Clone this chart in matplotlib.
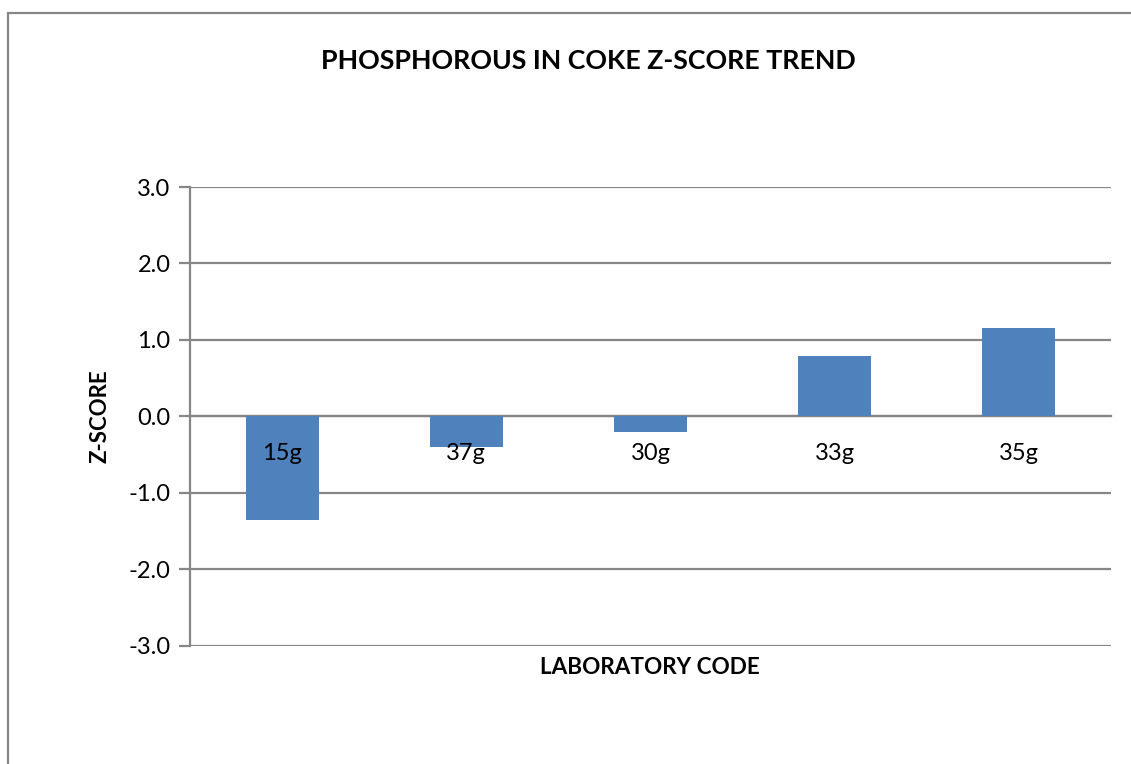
import matplotlib.pyplot as plt
from matplotlib.patches import Rectangle

labs = ["15g", "37g", "30g", "33g", "35g"]
zscores = [-1.35, -0.40, -0.21, 0.79, 1.16]
yticks = [-3.0, -2.0, -1.0, 0.0, 1.0, 2.0, 3.0]

plt.rcParams['font.family'] = ['Lato', 'DejaVu Sans']
grey = "#868686"

fig = plt.figure(figsize=(11.31, 7.64), dpi=100)
W, H = 1131., 764.

# outer chart frame
fig.patches.append(Rectangle((8 / W, -0.05), 1.1, 1 - 13 / H + 0.05,
                             transform=fig.transFigure, fill=False,
                             edgecolor=grey, lw=1.6))

ax = fig.add_axes([190 / W, 1 - 645.7 / H, (1111 - 190) / W, (645.7 - 187) / H])
x = list(range(len(labs)))
ax.bar(x, zscores, width=0.396, color="#4F81BD", zorder=3)
ax.set_xlim(-0.5, len(labs) - 0.5)
ax.set_ylim(-3, 3)
ax.set_yticks(yticks)
ax.set_yticklabels(["%.1f" % v for v in yticks], fontsize=17)
ax.yaxis.grid(True, color=grey, lw=1.6, zorder=0)
ax.set_axisbelow(True)

for s in ["top", "right"]:
    ax.spines[s].set_visible(False)
ax.spines["left"].set_color(grey)
ax.spines["left"].set_linewidth(1.6)
ax.spines["bottom"].set_position(("data", 0))
ax.spines["bottom"].set_color(grey)
ax.spines["bottom"].set_linewidth(1.6)
ax.tick_params(axis="y", length=8, width=1.6, color=grey, pad=6)
ax.set_xticks(x)
ax.set_xticklabels(labs, fontsize=17)
ax.tick_params(axis="x", length=0, pad=19)
# category labels sit on top of the bars
ax.xaxis.set_zorder(5)

fig.text(588 / W, 1 - 61 / H, "PHOSPHOROUS IN COKE Z-SCORE TREND",
         ha="center", va="center", fontsize=19.3, fontweight="bold")
fig.text(100 / W, 1 - 416 / H, "Z-SCORE", rotation=90, ha="center",
         va="center", fontsize=16, fontweight="bold")
fig.text(650 / W, 1 - 668 / H, "LABORATORY CODE", ha="center", va="center",
         fontsize=16.2, fontweight="bold")

fig.savefig("out.png", dpi=100)
